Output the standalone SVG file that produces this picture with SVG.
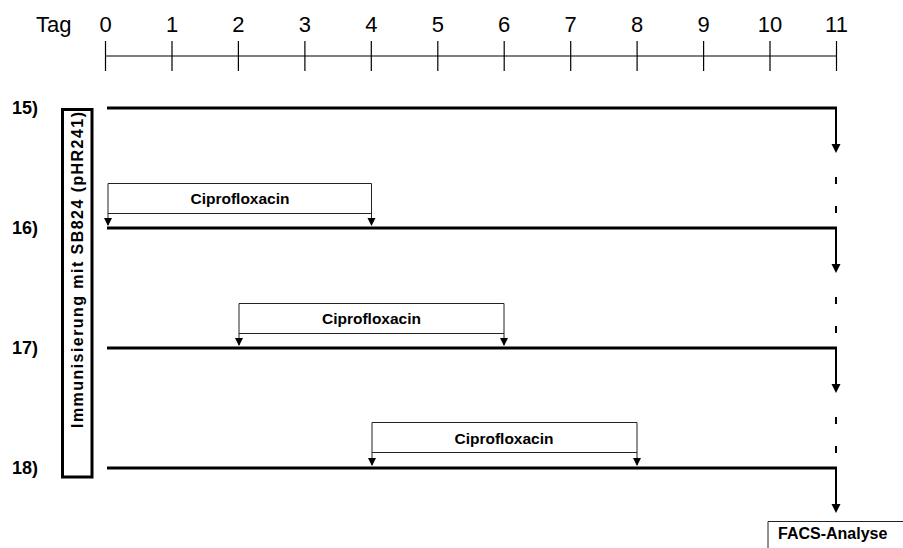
<svg xmlns="http://www.w3.org/2000/svg" width="903" height="548" viewBox="0 0 903 548">
<defs>
<style>
text{font-family:"Liberation Sans",Arial,sans-serif;fill:#000}
.ax{font-size:22px}
.lb{font-size:18px;font-weight:bold}
.bt{font-size:15.5px;font-weight:bold}
.im{font-size:16px;font-weight:bold}
.axis{stroke:#000;stroke-width:1.2;fill:none}
.row{stroke:#000;stroke-width:3;fill:none}
.vr{stroke:#000;stroke-width:2;fill:none}
.box{stroke:#222;stroke-width:1;fill:none}
</style>
<path id="bigHead" d="M-4.5,-9 L4.5,-9 L0,0 Z" fill="#000"/>
<path id="smHead" d="M-4,-8 L4,-8 L0,0 Z" fill="#000"/>
</defs>
<rect width="903" height="548" fill="#fff"/>

<g id="axis">
<text class="ax" x="36" y="32">Tag</text>
<line class="axis" x1="105.5" y1="56" x2="836.5" y2="56"/>
<g class="axis">
<line x1="105.5" y1="41" x2="105.5" y2="71"/>
<line x1="172" y1="41" x2="172" y2="71"/>
<line x1="238.4" y1="41" x2="238.4" y2="71"/>
<line x1="304.9" y1="41" x2="304.9" y2="71"/>
<line x1="371.3" y1="41" x2="371.3" y2="71"/>
<line x1="437.8" y1="41" x2="437.8" y2="71"/>
<line x1="504.2" y1="41" x2="504.2" y2="71"/>
<line x1="570.7" y1="41" x2="570.7" y2="71"/>
<line x1="637.1" y1="41" x2="637.1" y2="71"/>
<line x1="703.6" y1="41" x2="703.6" y2="71"/>
<line x1="770" y1="41" x2="770" y2="71"/>
<line x1="836.5" y1="41" x2="836.5" y2="71"/>
</g>
<g class="ax" text-anchor="middle">
<text x="105.5" y="32">0</text>
<text x="172" y="32">1</text>
<text x="238.4" y="32">2</text>
<text x="304.9" y="32">3</text>
<text x="371.3" y="32">4</text>
<text x="437.8" y="32">5</text>
<text x="504.2" y="32">6</text>
<text x="570.7" y="32">7</text>
<text x="637.1" y="32">8</text>
<text x="703.6" y="32">9</text>
<text x="770" y="32">10</text>
<text x="836.5" y="32">11</text>
</g>
</g>

<g id="immunisierung">
<rect x="62.5" y="109.5" width="29.5" height="367.5" fill="none" stroke="#000" stroke-width="3"/>
<text class="im" transform="translate(83,428) rotate(-90)" textLength="316" lengthAdjust="spacing">Immunisierung mit SB824 (pHR241)</text>
</g>

<g id="row15">
<text class="lb" x="12" y="114">15)</text>
</g>
<g id="row16">
<text class="lb" x="12" y="234">16)</text>
</g>
<g id="row17">
<text class="lb" x="12" y="354">17)</text>
</g>
<g id="row18">
<text class="lb" x="12" y="474">18)</text>
</g>

<g id="cipro16">
<path class="box" d="M108,225 V183.5 H371.5 V225 M108,213.5 H371.5"/>
<use href="#smHead" x="108" y="226"/>
<use href="#smHead" x="371.5" y="226"/>
<text class="bt" x="240" y="203.5" text-anchor="middle">Ciprofloxacin</text>
</g>
<g id="cipro17">
<path class="box" d="M239,345 V303.5 H504 V345 M239,333.5 H504"/>
<use href="#smHead" x="239" y="346"/>
<use href="#smHead" x="504" y="346"/>
<text class="bt" x="371.5" y="323.5" text-anchor="middle">Ciprofloxacin</text>
</g>
<g id="cipro18">
<path class="box" d="M372,465 V422.5 H637 V465 M372,452.5 H637"/>
<use href="#smHead" x="372" y="466"/>
<use href="#smHead" x="637" y="466"/>
<text class="bt" x="504" y="443.5" text-anchor="middle">Ciprofloxacin</text>
</g>

<g id="facs">
<path d="M768,548 V521.5 H903" fill="none" stroke="#222" stroke-width="1"/>
<text class="bt" x="778" y="539" style="font-size:16px">FACS-Analyse</text>
</g>

<g id="connectors">
<line class="row" x1="107" y1="108" x2="837" y2="108"/>
<line class="row" x1="107" y1="228" x2="837" y2="228"/>
<line class="row" x1="107" y1="348" x2="837" y2="348"/>
<line class="row" x1="107" y1="468" x2="837" y2="468"/>
<line class="vr" x1="836" y1="107" x2="836" y2="146"/>
<line class="vr" x1="836" y1="227" x2="836" y2="266"/>
<line class="vr" x1="836" y1="347" x2="836" y2="386"/>
<line class="vr" x1="836" y1="467" x2="836" y2="506"/>
<use href="#bigHead" x="836" y="153"/>
<use href="#bigHead" x="836" y="273"/>
<use href="#bigHead" x="836" y="393"/>
<use href="#bigHead" x="836" y="513"/>
<g class="vr">
<line x1="836" y1="177" x2="836" y2="184"/>
<line x1="836" y1="206" x2="836" y2="213"/>
<line x1="836" y1="297" x2="836" y2="304"/>
<line x1="836" y1="326" x2="836" y2="333"/>
<line x1="836" y1="417" x2="836" y2="424"/>
<line x1="836" y1="446" x2="836" y2="453"/>
</g>
</g>
</svg>
